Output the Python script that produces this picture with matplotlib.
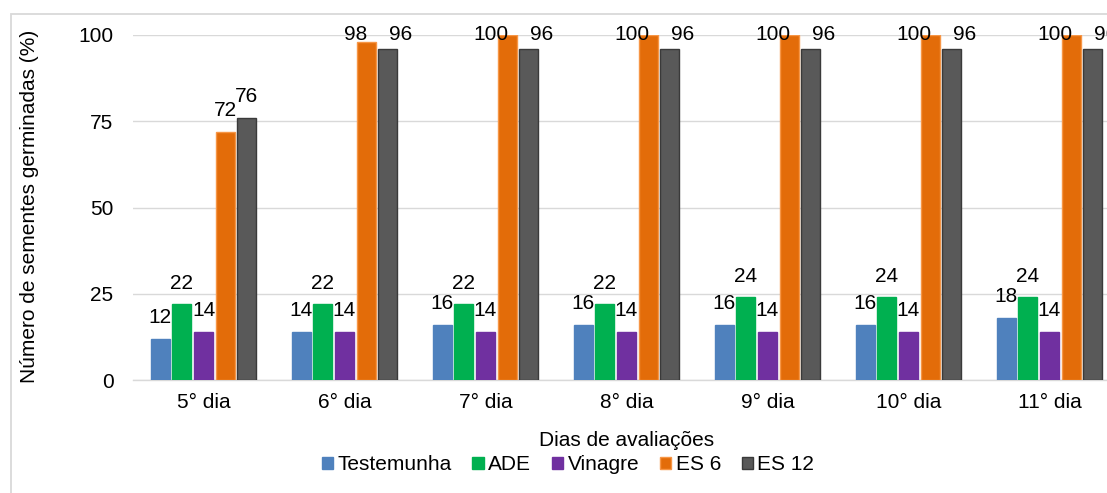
import matplotlib
matplotlib.use("Agg")
import matplotlib.pyplot as plt
from matplotlib.patches import Rectangle
import numpy as np

plt.rcParams['font.family'] = ['Liberation Sans', 'DejaVu Sans']

# Germination counts per evaluation day
dias = ["5° dia", "6° dia", "7° dia", "8° dia", "9° dia", "10° dia", "11° dia"]
testemunha = [12, 14, 16, 16, 16, 16, 18]
ade = [22, 22, 22, 22, 24, 24, 24]
vinagre = [14, 14, 14, 14, 14, 14, 14]
es6 = [72, 98, 100, 100, 100, 100, 100]
es12 = [76, 96, 96, 96, 96, 96, 96]
series_names = ["Testemunha", "ADE", "Vinagre", "ES 6", "ES 12"]
yticks = [0, 25, 50, 75, 100]

series = [testemunha, ade, vinagre, es6, es12]
faces = ["#4F81BD", "#00B050", "#7030A0", "#E36C09", "#595959"]
edges = ["#4F81BD", "#00B050", "#7030A0", "#F79646", "#3A3A3A"]

FS = 15
W, H = 1107, 493
fig = plt.figure(figsize=(W / 100, H / 100), dpi=100)
ax = fig.add_axes([133 / W, 113 / H, 987 / W, 345 / H])

x = np.arange(len(dias))
pitch = 0.154
bw = 0.135
bars = []
for i, (vals, fc, ec) in enumerate(zip(series, faces, edges)):
    b = ax.bar(x + (i - 2) * pitch, vals, width=bw, color=fc, edgecolor=ec,
               linewidth=1.0, zorder=3, label=series_names[i])
    bars.append(b)

ax.set_xlim(-0.5, len(dias) - 0.5)
ax.set_ylim(0, 100)
ax.set_yticks(yticks)
ax.set_xticks(x)
ax.set_xticklabels(dias, fontsize=FS)
ax.tick_params(axis='y', labelsize=FS, length=0, pad=14)
ax.tick_params(axis='x', length=0, pad=9.5)
ax.yaxis.grid(True, color="#D9D9D9", linewidth=1.0, zorder=0)
ax.set_axisbelow(True)
for s in ["top", "right", "left"]:
    ax.spines[s].set_visible(False)
ax.spines["bottom"].set_color("#D9D9D9")
ax.spines["bottom"].set_linewidth(1.0)

# value labels above bars; labels that would leave the plot area are held just
# under the top and pushed apart sideways
px_per_unit = 345 / 100
lift = 15.5 / px_per_unit
cap = 100 - 5 / px_per_unit
for i, b in enumerate(bars):
    for rect, v in zip(b.patches, series[i]):
        cx = rect.get_x() + rect.get_width() / 2
        y = v + lift
        ha, dx = "center", 0
        if y > cap:
            y = cap
            if i == 3:
                ha, dx = "right", 1
            elif i == 4:
                ha, dx = "left", 1
        ax.annotate(str(v), (cx, y), xytext=(dx * 0.72, 0), textcoords="offset points",
                    ha=ha, va="baseline", fontsize=FS, color="black",
                    annotation_clip=False, zorder=5)

fig.text(30 / W, 1 - 206 / H, "Número de sementes germinadas (%)", rotation=90,
         ha="center", va="center", fontsize=FS)
fig.text(626.5 / W, 1 - 441 / H, "Dias de avaliações", ha="center", va="center",
         fontsize=FS)

fig.legend(handles=bars, labels=series_names, loc="center",
           bbox_to_anchor=(568 / W, 1 - 465 / H), ncol=5, frameon=False,
           fontsize=FS, handlelength=0.55, handleheight=0.55, handletextpad=0.2,
           columnspacing=1.0, borderaxespad=0)

# chart frame
top = 1 - 14 / H
fig.patches.append(Rectangle((11 / W, -0.2), 1.5, 0.2 + top, transform=fig.transFigure,
                             fill=False, edgecolor="#D9D9D9", linewidth=1.3, zorder=0))

fig.savefig("out.png", dpi=100)
